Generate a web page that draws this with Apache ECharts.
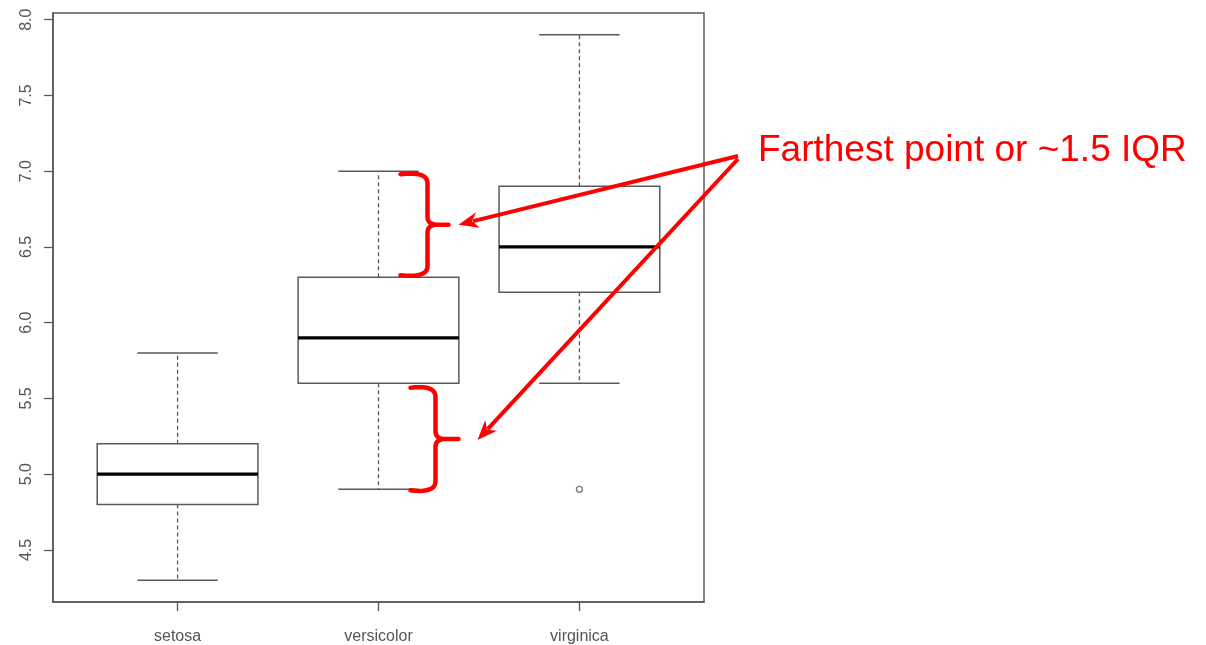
<!DOCTYPE html>
<html>
<head>
<meta charset="utf-8">
<script src="https://cdn.jsdelivr.net/npm/echarts@6/dist/echarts.min.js"></script>
<style>
  html, body { margin: 0; padding: 0; background: #fff; }
  #chart { width: 1206px; height: 645px; }
</style>
</head>
<body>
<div id="chart"></div>
<script>
// Sepal length by species (iris), five-number summaries as drawn by a classic boxplot
const species = ['setosa', 'versicolor', 'virginica'];
const whiskerLow = [4.3, 4.9, 5.6];
const q1 = [4.8, 5.6, 6.2];
const median = [5.0, 5.9, 6.5];
const q3 = [5.2, 6.3, 6.9];
const whiskerHigh = [5.8, 7.0, 7.9];
const outliers = [[2, 4.9]];
const yTicks = [4.5, 5.0, 5.5, 6.0, 6.5, 7.0, 7.5, 8.0];
const noteText = 'Farthest point or ~1.5 IQR';

const boxData = species.map((s, i) => [i, whiskerLow[i], q1[i], median[i], q3[i], whiskerHigh[i]]);

const GRAY = '#595959';
const RED = '#ff0000';
const FONT = "'Liberation Sans', Arial, sans-serif";

function renderBox(params, api) {
  const x = api.value(0);
  const lo = api.coord([x, api.value(1)]);
  const b1 = api.coord([x, api.value(2)]);
  const md = api.coord([x, api.value(3)]);
  const b3 = api.coord([x, api.value(4)]);
  const hi = api.coord([x, api.value(5)]);
  const w = api.size([0.8, 0])[0];
  const cx = lo[0];
  const half = w / 2, cap = w / 4;
  const solid = { stroke: GRAY, lineWidth: 1.5, fill: null };
  const dashed = { stroke: GRAY, lineWidth: 1.3, lineDash: [4, 3] };
  return {
    type: 'group',
    children: [
      { type: 'line', shape: { x1: cx, y1: b3[1], x2: cx, y2: hi[1] }, style: dashed },
      { type: 'line', shape: { x1: cx, y1: b1[1], x2: cx, y2: lo[1] }, style: dashed },
      { type: 'line', shape: { x1: cx - cap, y1: hi[1], x2: cx + cap, y2: hi[1] }, style: solid },
      { type: 'line', shape: { x1: cx - cap, y1: lo[1], x2: cx + cap, y2: lo[1] }, style: solid },
      { type: 'rect', shape: { x: cx - half, y: b3[1], width: w, height: b1[1] - b3[1] }, style: { stroke: GRAY, lineWidth: 1.5, fill: null } },
      { type: 'line', shape: { x1: cx - half, y1: md[1], x2: cx + half, y2: md[1] }, style: { stroke: '#000', lineWidth: 3.2 } }
    ]
  };
}

const chart = echarts.init(document.getElementById('chart'), null, { renderer: 'canvas' });
chart.setOption({
  animation: false,
  backgroundColor: '#fff',
  grid: { left: 53, right: 502, top: 13, bottom: 43, show: true, borderColor: GRAY, borderWidth: 1.5, backgroundColor: 'transparent' },
  xAxis: {
    type: 'value', min: -0.62, max: 2.62,
    splitLine: { show: false },
    axisLine: { show: true, onZero: false, lineStyle: { color: GRAY, width: 1.5 } },
    axisTick: { show: true, inside: false, length: 9, lineStyle: { color: GRAY, width: 1.3 }, customValues: [0, 1, 2] },
    axisLabel: {
      customValues: [0, 1, 2], margin: 27, color: '#555', fontSize: 16, fontFamily: FONT,
      formatter: v => species[Math.round(v)] || ''
    }
  },
  yAxis: {
    type: 'value', min: 4.156, max: 8.044,
    splitLine: { show: false },
    axisLine: { show: true, onZero: false, lineStyle: { color: GRAY, width: 1.5 } },
    axisTick: { show: true, inside: false, length: 9, lineStyle: { color: GRAY, width: 1.3 }, customValues: yTicks },
    axisLabel: {
      customValues: yTicks, rotate: 90, margin: 18, color: '#555', fontSize: 16, fontFamily: FONT,
      formatter: v => v.toFixed(1)
    }
  },
  series: [
    { type: 'custom', renderItem: renderBox, data: boxData, encode: { x: 0, y: [1, 2, 3, 4, 5] }, z: 2 },
    { type: 'scatter', data: outliers, symbol: 'circle', symbolSize: 6, itemStyle: { color: '#fff', borderColor: GRAY, borderWidth: 1.3 }, z: 3 }
  ]
});

// Red annotations: curly brackets beside the versicolor whiskers and arrows to the note
function px(x, y) { return chart.convertToPixel({ xAxisIndex: 0, yAxisIndex: 0 }, [x, y]); }

// sample a quadratic curve p0 -> p2 with control c into points
function quad(p0, c, p2, pts) {
  for (let i = 1; i <= 10; i++) {
    const t = i / 10, u = 1 - t;
    pts.push([u * u * p0[0] + 2 * u * t * c[0] + t * t * p2[0], u * u * p0[1] + 2 * u * t * c[1] + t * t * p2[1]]);
  }
}

function bracePoints(xEnd, xSpine, xTip, yTop, yBot) {
  const yMid = (yTop + yBot) / 2;
  const r = 9;
  const pts = [[xEnd, yTop]];
  quad([xEnd, yTop], [xSpine, yTop - 3], [xSpine, yTop + r], pts);
  pts.push([xSpine, yMid - 8]);
  quad([xSpine, yMid - 8], [xSpine, yMid], [xSpine + 10, yMid], pts);
  pts.push([xTip, yMid]);
  pts.push([xSpine + 10, yMid]);
  quad([xSpine + 10, yMid], [xSpine, yMid], [xSpine, yMid + 8], pts);
  pts.push([xSpine, yBot - r]);
  quad([xSpine, yBot - r], [xSpine, yBot + 3], [xEnd, yBot], pts);
  return pts;
}

function arrow(x1, y1, x2, y2) {
  const ang = Math.atan2(y2 - y1, x2 - x1);
  const len = 20, wid = 8;
  const bx = x2 - len * Math.cos(ang), by = y2 - len * Math.sin(ang);
  const nx = -Math.sin(ang), ny = Math.cos(ang);
  return [
    { type: 'line', silent: true, z: 100, shape: { x1: x1, y1: y1, x2: bx + 5 * Math.cos(ang), y2: by + 5 * Math.sin(ang) }, style: { stroke: RED, lineWidth: 4 } },
    { type: 'polygon', silent: true, z: 100, shape: { points: [[x2, y2], [bx + nx * wid, by + ny * wid], [bx + 6 * Math.cos(ang), by + 6 * Math.sin(ang)], [bx - nx * wid, by - ny * wid]] }, style: { fill: RED } }
  ];
}

const upTop = px(1, 7.0), upBot = px(1, 6.3);
const dnTop = px(1, 5.57), dnBot = px(1, 4.9);
const cx = upTop[0];
const b1 = { xEnd: cx + 22, xSpine: cx + 49, xTip: cx + 70, yTop: upTop[1] + 3, yBot: upBot[1] - 2 };
const b2 = { xEnd: cx + 32, xSpine: cx + 57, xTip: cx + 80, yTop: dnTop[1], yBot: dnBot[1] + 1 };
const origin = [738, 156];
const braceStyle = { stroke: RED, lineWidth: 4.5, fill: null, lineCap: 'round', lineJoin: 'round' };

chart.setOption({
  graphic: [
    { type: 'polyline', silent: true, z: 100, shape: { points: bracePoints(b1.xEnd, b1.xSpine, b1.xTip, b1.yTop, b1.yBot) }, style: braceStyle },
    { type: 'polyline', silent: true, z: 100, shape: { points: bracePoints(b2.xEnd, b2.xSpine, b2.xTip, b2.yTop, b2.yBot) }, style: braceStyle },
    ...arrow(origin[0], origin[1], b1.xTip + 10, (b1.yTop + b1.yBot) / 2),
    ...arrow(origin[0], origin[1] + 3, b2.xTip + 19, (b2.yTop + b2.yBot) / 2 + 1),
    { type: 'text', silent: true, z: 100, x: 758, y: 151, style: { text: noteText, fill: RED, font: '37px ' + FONT, textVerticalAlign: 'middle' } }
  ]
});
</script>
</body>
</html>
